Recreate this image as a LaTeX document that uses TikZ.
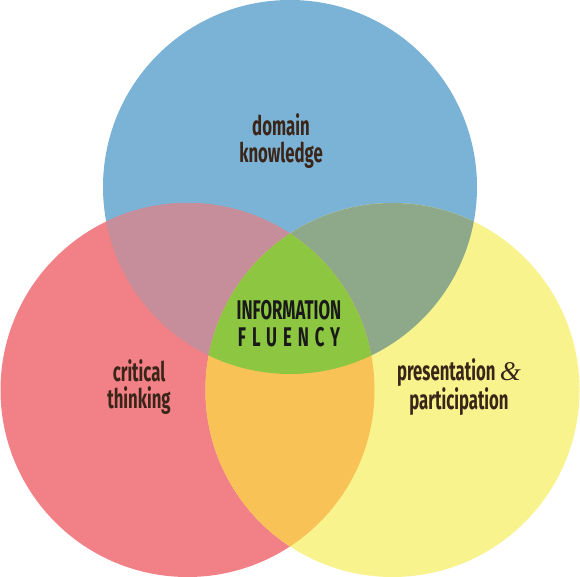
\documentclass[tikz,border=0pt]{standalone}
\usepackage{fontspec}
\usepackage{xcolor}
\usepackage{tikz}
\newfontfamily\vennfont[FakeStretch=0.62]{Fira Sans}
\definecolor{skyb}{HTML}{7BB3D6}
\definecolor{rosy}{HTML}{F28087}
\definecolor{lemon}{HTML}{F8F38D}
\definecolor{mauve}{HTML}{C68D9A}
\definecolor{sage}{HTML}{8DA98A}
\definecolor{amber}{HTML}{F9C257}
\definecolor{lime}{HTML}{8DC641}
\definecolor{cocoa}{HTML}{3A2518}
\newcommand{\lens}[3]{\begin{scope}\clip (#1) circle (187); \fill[#3] (#2) circle (187);\end{scope}}

\begin{document}
\begin{tikzpicture}[x=1pt,y=1pt,
  lbl/.style={font=\vennfont\bfseries\fontsize{27}{27}\selectfont,text=cocoa,align=center,inner sep=0pt}]
\useasboundingbox (0,0) rectangle (580,577);
\coordinate (top) at (290,390); \coordinate (lft) at (187.5,187); \coordinate (rgt) at (392.5,187);
\fill[skyb] (top) circle (187); \fill[rosy] (lft) circle (187); \fill[lemon] (rgt) circle (187);
\lens{top}{lft}{mauve} \lens{top}{rgt}{sage} \lens{lft}{rgt}{amber}
\begin{scope}\clip (top) circle (187); \clip (lft) circle (187); \fill[lime] (rgt) circle (187);\end{scope}
\node[lbl] (dom) at (281,436) {domain\\knowledge};
\node[lbl] (crit) at (139,190) {critical\\thinking};
\node[lbl] (pres) at (459,190) {presentation\,{\fontspec{Liberation Serif}\itshape\mdseries\&}\\participation};
\node[lbl,text=black!90] (flu) at (289,253) {INFORMATION\\{\addfontfeature{LetterSpace=22}FLUENCY}};
\end{tikzpicture}
\end{document}
